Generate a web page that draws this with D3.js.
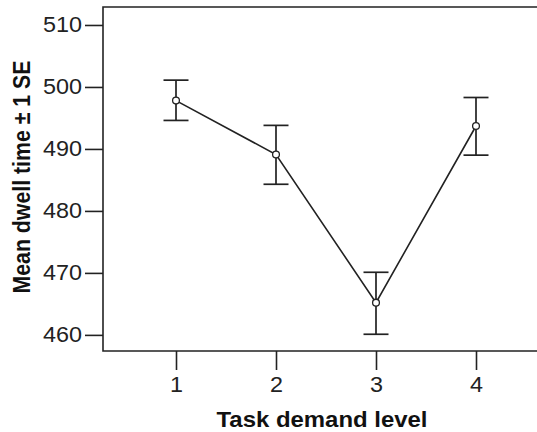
<!DOCTYPE html>
<html>
<head>
<meta charset="utf-8">
<script src="https://cdn.jsdelivr.net/npm/d3@7"></script>
<style>
  html, body { margin: 0; padding: 0; background: #fff; }
  svg { display: block; font-family: "Liberation Sans", Arial, sans-serif; }
</style>
</head>
<body>
<div id="chart"></div>
<script>
// data
const levels = [1, 2, 3, 4];
const means = [497.8, 489.1, 465.2, 493.7];
const upper = [501.1, 493.8, 470.1, 498.3];
const lower = [494.6, 484.3, 460.1, 489.0];
const yTicks = [460, 470, 480, 490, 500, 510];

const width = 537, height = 432;
const plotLeft = 103, plotTop = 7, plotRight = 540, plotBottom = 351;
const ink = '#222';

const svg = d3.select('#chart').append('svg')
    .attr('width', width)
    .attr('height', height);

const x = d3.scaleLinear().domain([0.27, 4.64]).range([plotLeft, plotRight]);
const y = d3.scaleLinear().domain([457.4, 512.9]).range([plotBottom, plotTop]);

// y axis
const yAxis = svg.append('g')
    .attr('transform', `translate(${plotLeft},0)`)
    .call(d3.axisLeft(y).tickValues(yTicks).tickSize(18).tickPadding(3).tickSizeOuter(0));
yAxis.select('.domain').remove();

// x axis
const xAxis = svg.append('g')
    .attr('transform', `translate(0,${plotBottom})`)
    .call(d3.axisBottom(x).tickValues(levels).tickFormat(d3.format('d')).tickSize(19).tickPadding(7).tickSizeOuter(0));
xAxis.select('.domain').remove();

// the reference is a bit wider than tall, so stretch glyphs with textLength
[yAxis, xAxis].forEach(g => {
    g.selectAll('line').attr('stroke', ink).attr('stroke-width', 1.6);
    g.selectAll('text')
        .attr('fill', ink)
        .style('font-size', '21.5px')
        .attr('textLength', function() { return this.textContent.length * 13; })
        .attr('lengthAdjust', 'spacingAndGlyphs');
});

// frame: top, left, bottom
svg.append('path')
    .attr('d', `M${plotRight},${plotTop} H${plotLeft} V${plotBottom} H${plotRight}`)
    .attr('fill', 'none')
    .attr('stroke', ink)
    .attr('stroke-width', 1.6);

const pts = levels.map((d, i) => ({ lvl: d, m: means[i], hi: upper[i], lo: lower[i] }));

// error bars
const cap = 12.5;
const eb = svg.append('g').attr('stroke', ink).attr('stroke-width', 1.7).attr('fill', 'none');
pts.forEach(p => {
    const cx = x(p.lvl);
    eb.append('line').attr('x1', cx).attr('x2', cx).attr('y1', y(p.hi)).attr('y2', y(p.lo));
    eb.append('line').attr('x1', cx - cap).attr('x2', cx + cap).attr('y1', y(p.hi)).attr('y2', y(p.hi));
    eb.append('line').attr('x1', cx - cap).attr('x2', cx + cap).attr('y1', y(p.lo)).attr('y2', y(p.lo));
});

// mean line
svg.append('path')
    .datum(pts)
    .attr('d', d3.line().x(d => x(d.lvl)).y(d => y(d.m)))
    .attr('fill', 'none')
    .attr('stroke', ink)
    .attr('stroke-width', 1.6);

svg.selectAll('circle.pt')
    .data(pts)
    .enter()
    .append('circle')
    .attr('class', 'pt')
    .attr('cx', d => x(d.lvl))
    .attr('cy', d => y(d.m))
    .attr('r', 3.4)
    .attr('fill', '#fff')
    .attr('stroke', ink)
    .attr('stroke-width', 1.3);

// axis titles
svg.append('text')
    .attr('x', 322)
    .attr('y', 427)
    .attr('text-anchor', 'middle')
    .attr('font-weight', 'bold')
    .attr('font-size', 22)
    .attr('textLength', 211)
    .attr('lengthAdjust', 'spacingAndGlyphs')
    .attr('fill', '#111')
    .text('Task demand level');

svg.append('text')
    .attr('transform', 'translate(30,177) rotate(-90)')
    .attr('text-anchor', 'middle')
    .attr('font-weight', 'bold')
    .attr('font-size', 23.5)
    .attr('textLength', 233)
    .attr('lengthAdjust', 'spacingAndGlyphs')
    .attr('fill', '#111')
    .text('Mean dwell time ± 1 SE');
</script>
</body>
</html>
